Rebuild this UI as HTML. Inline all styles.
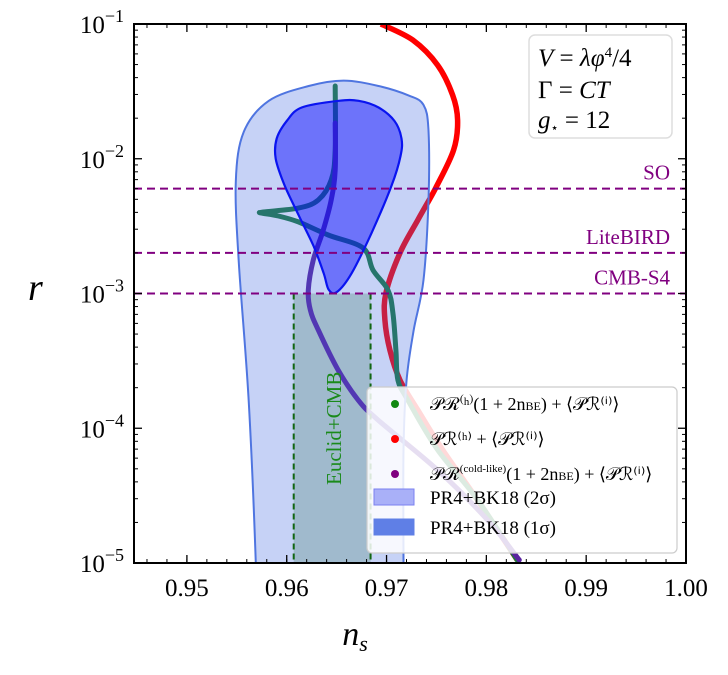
<!DOCTYPE html>
<html><head><meta charset="utf-8"><style>
body{margin:0;background:#fff;}
svg text{font-family:"Liberation Serif",serif;}
</style></head><body>
<svg id="chart" width="728" height="670" viewBox="0 0 728 670" xmlns="http://www.w3.org/2000/svg"></svg>
<script>
// ---- data (ns, log10 r) ----
const xTicks=[0.95,0.96,0.97,0.98,0.99,1.00];
const xTickLabels=["0.95","0.96","0.97","0.98","0.99","1.00"];
const yDecades=[-1,-2,-3,-4,-5];
const sigma2NS=[0.9570,0.9569,0.9562,0.9552,0.9549,0.9557,0.9582,0.9622,0.9657,0.9692,0.9722,0.9737,0.9742,0.9742,0.9737,0.9727,0.9720,0.9717,0.9717,0.9717];
const sigma2LR=[-5.6,-5.0,-3.81,-2.77,-2.17,-1.80,-1.57,-1.46,-1.42,-1.46,-1.53,-1.60,-1.79,-2.31,-2.90,-3.28,-3.65,-4.17,-5.0,-5.6];
const sigma1NS=[0.9652,0.9615,0.9600,0.9590,0.9589,0.9598,0.9612,0.9627,0.9637,0.9642,0.9650,0.9665,0.9685,0.9705,0.9714,0.9715,0.9708,0.9692,0.9672];
const sigma1LR=[-1.57,-1.62,-1.72,-1.85,-2.0,-2.2,-2.42,-2.65,-2.85,-2.97,-2.99,-2.85,-2.55,-2.20,-1.98,-1.85,-1.72,-1.62,-1.57];
const redNS=[0.96944,0.97263,0.97512,0.97662,0.97712,0.97672,0.97492,0.97313,0.97134,0.96994,0.96984,0.97034,0.97134,0.97313,0.97562,0.97911,0.9831];
const redLR=[-1.0,-1.119,-1.305,-1.527,-1.713,-1.935,-2.217,-2.455,-2.7,-2.997,-3.197,-3.42,-3.642,-3.865,-4.161,-4.532,-4.978];
const greenNS=[0.96486,0.96486,0.96446,0.96316,0.96117,0.95768,0.95748,0.95917,0.96117,0.96416,0.96765,0.96864,0.97014,0.97064,0.97094,0.97114,0.97213,0.97512,0.97911,0.98310];
const greenLR=[-1.46,-1.935,-2.158,-2.306,-2.366,-2.395,-2.403,-2.425,-2.469,-2.566,-2.662,-2.826,-2.974,-3.145,-3.42,-3.642,-3.79,-4.16,-4.53,-4.98];
const purpleNS=[0.96486,0.96486,0.96446,0.96366,0.96266,0.96216,0.96236,0.96316,0.96515,0.96715,0.96914,0.97512,0.98011,0.9833];
const purpleLR=[-1.735,-2.083,-2.306,-2.529,-2.751,-2.974,-3.122,-3.271,-3.568,-3.79,-3.939,-4.31,-4.681,-4.978];
const limitLR=[Math.log10(0.006),Math.log10(0.002),Math.log10(0.001)];
const limitNames=["SO","LiteBIRD","CMB-S4"];
const euclidNS=[0.9607,0.9684];
// ---- axes ----
const L=134,R=686,T=24,B=563,XMIN=0.9447,XMAX=1.0,YMAX=-1,YMIN=-5;
const X=v=>L+(v-XMIN)/(XMAX-XMIN)*(R-L);
const Y=v=>T+(YMAX-v)/(YMAX-YMIN)*(B-T);
const svg=document.getElementById('chart');const NS='http://www.w3.org/2000/svg';
function mk(tag,attrs,parent){const e=document.createElementNS(NS,tag);for(const k in attrs)e.setAttribute(k,attrs[k]);(parent||svg).appendChild(e);return e;}
function pathOf(xs,ys,close){
  const p=xs.map((v,i)=>[X(v),Y(ys[i])]);const n=p.length;
  const get=i=>close?p[(i+n)%n]:p[Math.max(0,Math.min(n-1,i))];
  let d='M'+p[0][0].toFixed(1)+','+p[0][1].toFixed(1);
  const last=close?n:n-1;
  for(let i=0;i<last;i++){const p0=get(i-1),p1=get(i),p2=get(i+1),p3=get(i+2);
    const c1=[p1[0]+(p2[0]-p0[0])/6,p1[1]+(p2[1]-p0[1])/6],c2=[p2[0]-(p3[0]-p1[0])/6,p2[1]-(p3[1]-p1[1])/6];
    d+='C'+c1.map(v=>v.toFixed(1))+' '+c2.map(v=>v.toFixed(1))+' '+p2.map(v=>v.toFixed(1));}
  return d+(close?'Z':'');}
const defs=mk('defs',{});const cp=mk('clipPath',{id:'clip'},defs);mk('rect',{x:L,y:T,width:R-L,height:B-T},cp);
const g=mk('g',{'clip-path':'url(#clip)'});
let e;
e=mk('rect',{x:X(euclidNS[0]),y:Y(-3),width:X(euclidNS[1])-X(euclidNS[0]),height:B-Y(-3),fill:'#c9ddc4'},g);

e=mk('path',{d:pathOf(redNS,redLR),fill:'none',stroke:'#ff0000','stroke-width':5.5,'stroke-linejoin':'round'},g);

e=mk('path',{d:pathOf(greenNS,greenLR),fill:'none',stroke:'#1a7a3a','stroke-width':5,'stroke-linejoin':'round','stroke-linecap':'round'},g);

e=mk('path',{d:pathOf(purpleNS,purpleLR),fill:'none',stroke:'#5a22a0','stroke-width':5,'stroke-linejoin':'round','stroke-linecap':'round'},g);

e=mk('path',{d:pathOf(sigma2NS,sigma2LR,false)+'Z',fill:'rgba(65,105,225,0.3)',stroke:'#4f75e0','stroke-width':2,'stroke-linejoin':'round'},g);

e=mk('path',{d:pathOf(sigma1NS,sigma1LR,true),fill:'rgba(0,0,255,0.45)',stroke:'#0a14f0','stroke-width':2.2,'stroke-linejoin':'round'},g);

for(const v of euclidNS){e=mk('line',{x1:X(v),x2:X(v),y1:Y(-3),y2:B,stroke:'#116611','stroke-width':2,'stroke-dasharray':'6,4'},g);
}
e=mk('text',{transform:`translate(${(X(euclidNS[0])+X(euclidNS[1]))/2+9},485) rotate(-90)`,'font-size':21,fill:'#1a8a1a'},g);e.textContent='Euclid+CMB';

limitLR.forEach((v,i)=>{e=mk('line',{x1:L,x2:R,y1:Y(v),y2:Y(v),stroke:'#800080','stroke-width':2,'stroke-dasharray':'8,5'},g);

e=mk('text',{x:670,y:Y(v)-9,'font-size':21,fill:'#800080','text-anchor':'end'});e.textContent=limitNames[i];
});
// frame
mk('rect',{x:L,y:T,width:R-L,height:B-T,fill:'none',stroke:'#000','stroke-width':2});
// x ticks
for(let k=0;k<=28;k++){const v=0.946+k*0.002;if(v>XMAX+1e-9)break;const px=X(v);
mk('line',{x1:px,x2:px,y1:B,y2:B-4,stroke:'#000'});mk('line',{x1:px,x2:px,y1:T,y2:T+4,stroke:'#000'});}
xTicks.forEach((v,i)=>{const px=X(v);mk('line',{x1:px,x2:px,y1:B,y2:B-8,stroke:'#000','stroke-width':1.3});mk('line',{x1:px,x2:px,y1:T,y2:T+8,stroke:'#000','stroke-width':1.3});
e=mk('text',{x:px,y:596,'font-size':25,'text-anchor':'middle'});e.textContent=xTickLabels[i];
});
// y ticks
yDecades.forEach(d=>{const py=Y(d);mk('line',{x1:L,x2:L+8,y1:py,y2:py,stroke:'#000','stroke-width':1.3});mk('line',{x1:R,x2:R-8,y1:py,y2:py,stroke:'#000','stroke-width':1.3});
e=mk('text',{x:L-10,y:py+9,'font-size':25,'text-anchor':'end'});
e.innerHTML='10<tspan dy="-11" font-size="18">−'+(-d)+'</tspan>';

if(d>-5)for(let m=2;m<=9;m++){const yy=Y(d-1+Math.log10(m));mk('line',{x1:L,x2:L+4,y1:yy,y2:yy,stroke:'#000'});mk('line',{x1:R,x2:R-4,y1:yy,y2:yy,stroke:'#000'});}});
e=mk('text',{x:355,y:645,'font-size':34,'font-style':'italic','text-anchor':'middle'});e.innerHTML='n<tspan font-size="22" dy="6">s</tspan>';

e=mk('text',{x:28,y:300,'font-size':38,'font-style':'italic'});e.textContent='r';

// info box
e=mk('rect',{x:529,y:35,width:143,height:103,rx:6,fill:'#fff','fill-opacity':0.9,stroke:'#ddd','stroke-width':1.5});

[['<tspan font-style="italic">V</tspan> = <tspan font-style="italic">λφ</tspan><tspan font-size="15" dy="-9">4</tspan><tspan dy="9">/4</tspan>',66],['Γ = <tspan font-style="italic">CT</tspan>',98],['<tspan font-style="italic">g</tspan><tspan font-size="13" dy="4">⋆</tspan><tspan dy="-4"> = 12</tspan>',128]].forEach(([t,y])=>{e=mk('text',{x:538,y:y,'font-size':25});e.innerHTML=t;
});
// legend
e=mk('rect',{x:367,y:387,width:310,height:166,rx:5,fill:'#fff','fill-opacity':0.85,stroke:'#ccc','stroke-width':1.2});

const legItems=[['#118811','𝒫ℛ⁽ʰ⁾(1 + 2n<tspan font-size="12">BE</tspan>) + ⟨𝒫ℛ⁽ⁱ⁾⟩'],['#ff0000','𝒫ℛ⁽ʰ⁾ + ⟨𝒫ℛ⁽ⁱ⁾⟩'],['#800080','𝒫ℛ<tspan font-size="11" dy="-8">(cold-like)</tspan><tspan dy="8">(1 + 2n</tspan><tspan font-size="12">BE</tspan>) + ⟨𝒫ℛ⁽ⁱ⁾⟩']];
legItems.forEach(([c,t],i)=>{const y=404+i*35;mk('circle',{cx:395,cy:y,r:4,fill:c});
e=mk('text',{x:430,y:y+6,'font-size':18});e.innerHTML=t;
});
[['#a9b0f8','#7a80f0','PR4+BK18 (2σ)',504],['#5f7fe6','#5f7fe6','PR4+BK18 (1σ)',534]].forEach(([f,s,t,y])=>{
mk('rect',{x:374,y:y-15,width:40,height:16,fill:f,stroke:s});
e=mk('text',{x:430,y:y,'font-size':19});e.textContent=t;
});
</script>
</body></html>
